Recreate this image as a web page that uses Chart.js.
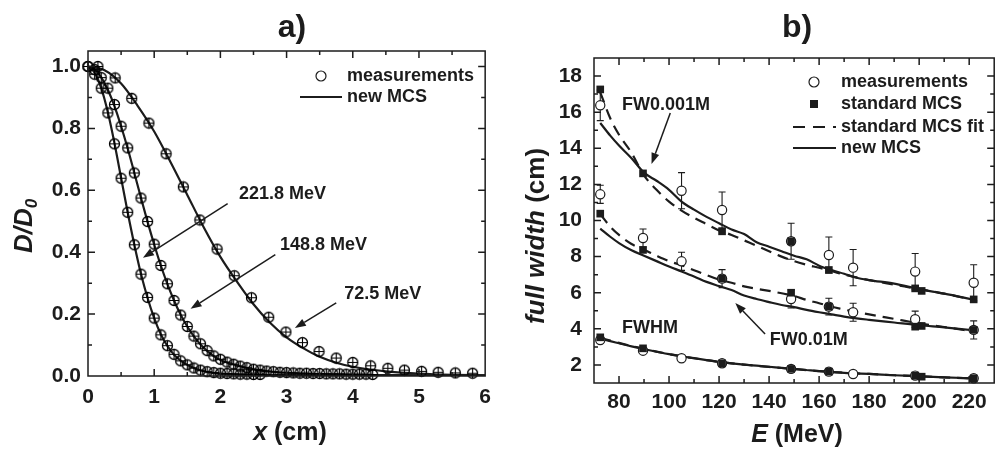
<!DOCTYPE html>
<html>
<head>
<meta charset="utf-8">
<script src="https://cdn.jsdelivr.net/npm/chart.js@4.4.1/dist/chart.umd.min.js"></script>
<style>
    html, body { margin: 0; padding: 0; background: #fff; }
    #wrap { position: relative; width: 1000px; height: 456px; }
    canvas { position: absolute; top: 0; }
    #chartA { left: 0; }
    #chartB { left: 500px; }
</style>
</head>
<body>
<div id="wrap">
    <canvas id="chartA" width="500" height="456"></canvas>
    <canvas id="chartB" width="500" height="456"></canvas>
</div>
<script>
// ---------- panel a: lateral dose profiles ----------
const xTicksA = [0, 1, 2, 3, 4, 5, 6];
const yTicksA = [0, 0.2, 0.4, 0.6, 0.8, 1.0];

// measurements (circle with cross)
const x221 = [0, 0.1, 0.2, 0.3, 0.4, 0.5, 0.6, 0.7, 0.8, 0.9, 1.0, 1.1, 1.2, 1.3, 1.4, 1.5, 1.6, 1.7, 1.8, 1.9, 2.0, 2.1, 2.2, 2.3, 2.4, 2.5, 2.6];
const d221 = [1.0, 0.975, 0.93, 0.85, 0.75, 0.639, 0.529, 0.424, 0.329, 0.254, 0.187, 0.133, 0.098, 0.07, 0.049, 0.036, 0.026, 0.019, 0.014, 0.011, 0.009, 0.008, 0.007, 0.006, 0.006, 0.005, 0.005];

const x148 = [0, 0.1, 0.2, 0.3, 0.4, 0.5, 0.6, 0.7, 0.8, 0.9, 1.0, 1.1, 1.2, 1.3, 1.4, 1.5, 1.6, 1.7, 1.8, 1.9, 2.0, 2.1, 2.2, 2.3, 2.4, 2.5, 2.6, 2.7, 2.8, 2.9, 3.0, 3.1, 3.2, 3.3, 3.4, 3.5, 3.6, 3.7, 3.8, 3.9, 4.0, 4.1, 4.2, 4.3];
const d148 = [1.0, 0.99, 0.964, 0.93, 0.877, 0.807, 0.737, 0.656, 0.575, 0.499, 0.426, 0.357, 0.298, 0.244, 0.197, 0.16, 0.129, 0.104, 0.082, 0.065, 0.054, 0.045, 0.038, 0.032, 0.027, 0.022, 0.019, 0.016, 0.014, 0.012, 0.011, 0.01, 0.009, 0.009, 0.008, 0.008, 0.007, 0.007, 0.007, 0.006, 0.006, 0.006, 0.006, 0.005];

const x72 = [0.15, 0.41, 0.66, 0.92, 1.18, 1.44, 1.69, 1.95, 2.21, 2.47, 2.73, 2.99, 3.24, 3.49, 3.75, 4.0, 4.27, 4.53, 4.78, 5.04, 5.29, 5.55, 5.81];
const d72 = [1.0, 0.963, 0.897, 0.817, 0.718, 0.611, 0.504, 0.41, 0.324, 0.253, 0.19, 0.142, 0.108, 0.079, 0.058, 0.044, 0.033, 0.025, 0.019, 0.015, 0.012, 0.01, 0.009];

// new MCS curves
const cx221 = [0, 0.1, 0.2, 0.3, 0.4, 0.5, 0.6, 0.7, 0.8, 0.9, 1.0, 1.1, 1.2, 1.3, 1.4, 1.5, 1.6, 1.7, 1.8, 1.9, 2.0, 2.2, 2.5, 3.0, 4.0, 6.0];
const cd221 = [1.0, 0.98, 0.93, 0.852, 0.752, 0.64, 0.528, 0.424, 0.33, 0.252, 0.187, 0.135, 0.097, 0.069, 0.05, 0.036, 0.026, 0.018, 0.013, 0.009, 0.007, 0.005, 0.004, 0.003, 0.002, 0.001];

const cx148 = [0, 0.1, 0.2, 0.3, 0.4, 0.5, 0.6, 0.7, 0.8, 0.9, 1.0, 1.1, 1.2, 1.3, 1.4, 1.5, 1.6, 1.7, 1.8, 1.9, 2.0, 2.2, 2.4, 2.6, 2.8, 3.0, 3.5, 4.0, 4.5, 5.0, 6.0];
const cd148 = [1.0, 0.99, 0.965, 0.925, 0.872, 0.807, 0.735, 0.656, 0.576, 0.498, 0.425, 0.357, 0.297, 0.244, 0.198, 0.16, 0.128, 0.102, 0.081, 0.064, 0.052, 0.037, 0.026, 0.018, 0.013, 0.01, 0.006, 0.004, 0.003, 0.002, 0.001];

const cx72 = [0, 0.25, 0.5, 0.75, 1.0, 1.25, 1.5, 1.75, 2.0, 2.25, 2.5, 2.75, 3.0, 3.25, 3.5, 3.75, 4.0, 4.5, 5.0, 5.5, 6.0];
const cd72 = [1.0, 0.988, 0.945, 0.873, 0.79, 0.69, 0.585, 0.48, 0.385, 0.305, 0.232, 0.172, 0.125, 0.09, 0.062, 0.043, 0.03, 0.015, 0.008, 0.004, 0.002];

// ---------- panel b: full widths vs energy ----------
const xTicksB = [80, 100, 120, 140, 160, 180, 200, 220];
const yTicksB = [2, 4, 6, 8, 10, 12, 14, 16, 18];

const measE = [72.5, 89.6, 105.0, 121.2, 148.8, 163.9, 173.6, 198.4, 221.8];
const measFW0001 = [16.38, null, 11.65, 10.58, 8.85, 8.09, 7.39, 7.17, 6.55];
const errFW0001 = [0.85, null, 1.0, 1.0, 1.0, 1.0, 1.0, 1.0, 1.0];
const measFW001 = [11.45, 9.03, 7.74, 6.78, 5.65, 5.23, 4.92, 4.53, 3.94];
const errFW001 = [0.5, 0.5, 0.5, 0.5, 0.5, 0.46, 0.5, 0.45, 0.5];
const measFWHM = [3.38, 2.79, 2.37, 2.09, 1.78, 1.63, 1.5, 1.41, 1.26];

const stdE = [72.5, 89.6, 121.2, 148.8, 163.9, 198.4, 201.0, 221.8];
const stdFW0001 = [17.26, 12.61, 9.40, 8.85, 7.26, 6.24, 6.10, 5.63];
const stdFW001 = [10.38, 8.37, 6.78, 6.00, 5.23, 4.12, 4.16, 3.94];
const stdFWHM = [3.53, 2.92, 2.09, 1.78, 1.63, 1.41, 1.35, 1.26];

const curveE = [72.5, 76.5, 80, 85, 90, 95, 100, 105, 110, 115, 120, 125, 130, 135, 140, 145, 150, 155, 160, 165, 170, 175, 180, 190, 200, 210, 221.8];
const newFW0001 = [15.40, 14.70, 14.15, 13.45, 12.65, 12.20, 11.70, 11.05, 10.60, 10.20, 9.85, 9.50, 9.25, 8.80, 8.55, 8.30, 8.05, 7.85, 7.50, 7.25, 7.05, 6.83, 6.70, 6.50, 6.20, 5.95, 5.62];
const fitFW0001 = [17.10, 15.66, 14.75, 13.75, 12.50, 11.70, 11.05, 10.55, 10.15, 9.80, 9.45, 9.20, 8.90, 8.60, 8.30, 8.00, 7.75, 7.55, 7.38, 7.20, 7.00, 6.85, 6.70, 6.45, 6.20, 5.95, 5.60];
const newFW001 = [9.55, 9.10, 8.75, 8.35, 8.05, 7.75, 7.45, 7.18, 6.90, 6.60, 6.37, 6.15, 5.85, 5.65, 5.48, 5.32, 5.20, 5.05, 4.92, 4.80, 4.68, 4.58, 4.50, 4.35, 4.20, 4.08, 3.92];
const fitFW001 = [10.35, 9.66, 9.20, 8.70, 8.38, 8.05, 7.75, 7.52, 7.25, 6.98, 6.73, 6.55, 6.35, 6.22, 6.10, 5.97, 5.82, 5.60, 5.42, 5.22, 5.07, 4.92, 4.80, 4.55, 4.30, 4.10, 3.85];
const newFWHM = [3.45, 3.32, 3.20, 3.03, 2.88, 2.73, 2.60, 2.48, 2.38, 2.27, 2.17, 2.09, 2.02, 1.96, 1.90, 1.84, 1.78, 1.72, 1.66, 1.61, 1.56, 1.53, 1.50, 1.43, 1.37, 1.31, 1.26];
const fitFWHM = [3.50, 3.35, 3.22, 3.05, 2.90, 2.74, 2.60, 2.48, 2.37, 2.27, 2.17, 2.09, 2.02, 1.95, 1.89, 1.83, 1.77, 1.71, 1.66, 1.61, 1.57, 1.53, 1.50, 1.43, 1.37, 1.31, 1.25];

const FONT = "'Liberation Sans', Arial, sans-serif";
const INK = '#1c1c1c';

const pts = (xs, ys) => xs.map((x, i) => ({ x: x, y: ys[i] }));
const mids = (arr) => arr.slice(1).map((v, i) => (v + arr[i]) / 2);

// circle with a cross, used for the profile measurements
function crossCircle() {
    const c = document.createElement('canvas');
    c.width = 13; c.height = 13;
    const g = c.getContext('2d');
    g.strokeStyle = '#000';
    g.lineWidth = 1.3;
    g.beginPath(); g.arc(6.5, 6.5, 5, 0, Math.PI * 2); g.stroke();
    g.lineWidth = 1.1;
    g.beginPath();
    g.moveTo(6.5, 1.5); g.lineTo(6.5, 11.5);
    g.moveTo(1.5, 6.5); g.lineTo(11.5, 6.5);
    g.stroke();
    return c;
}

function drawParts(ctx, parts, x, y, rotate) {
    ctx.save();
    ctx.translate(x, y);
    if (rotate) ctx.rotate(-Math.PI / 2);
    let total = 0;
    parts.forEach(p => { ctx.font = p.font; total += ctx.measureText(p.text).width; });
    let cx = -total / 2;
    ctx.textBaseline = 'middle';
    ctx.textAlign = 'left';
    ctx.fillStyle = INK;
    parts.forEach(p => {
        ctx.font = p.font;
        ctx.fillText(p.text, cx, p.dy || 0);
        cx += ctx.measureText(p.text).width;
    });
    ctx.restore();
}

function arrow(ctx, x1, y1, x2, y2) {
    const ang = Math.atan2(y2 - y1, x2 - x1);
    const len = 11, half = 4;
    const bx = x2 - len * Math.cos(ang), by = y2 - len * Math.sin(ang);
    ctx.beginPath();
    ctx.moveTo(x1, y1); ctx.lineTo(bx, by);
    ctx.stroke();
    ctx.beginPath();
    ctx.moveTo(x2, y2);
    ctx.lineTo(bx + half * Math.sin(ang), by - half * Math.cos(ang));
    ctx.lineTo(bx - half * Math.sin(ang), by + half * Math.cos(ang));
    ctx.closePath();
    ctx.fill();
}

// box, inward ticks on all four sides, titles, legend and arrow notes
const decorPlugin = {
    id: 'decor',
    beforeDatasetsDraw(chart, args, o) {
        if (!o.errors) return;
        const { ctx, scales: { x, y } } = chart;
        ctx.save();
        ctx.strokeStyle = INK;
        ctx.lineWidth = 1.1;
        o.errors.forEach(g => {
            g.x.forEach((e, i) => {
                if (g.y[i] == null || g.err[i] == null) return;
                const px = x.getPixelForValue(e);
                const top = y.getPixelForValue(g.y[i] + g.err[i]);
                const bot = y.getPixelForValue(g.y[i] - g.err[i]);
                ctx.beginPath();
                ctx.moveTo(px, top); ctx.lineTo(px, bot);
                ctx.moveTo(px - 3.5, top); ctx.lineTo(px + 3.5, top);
                ctx.moveTo(px - 3.5, bot); ctx.lineTo(px + 3.5, bot);
                ctx.stroke();
            });
        });
        ctx.restore();
    },
    afterDraw(chart, args, o) {
        const { ctx, chartArea: a, scales: { x, y } } = chart;
        ctx.save();
        ctx.strokeStyle = INK;
        ctx.fillStyle = INK;
        ctx.lineWidth = 1.5;
        ctx.strokeRect(a.left, a.top, a.right - a.left, a.bottom - a.top);

        const tick = (vals, len) => {
            vals.forEach(v => {
                const px = x.getPixelForValue(v);
                if (px > a.left + 1 && px < a.right - 1) {
                    ctx.moveTo(px, a.bottom); ctx.lineTo(px, a.bottom - len);
                    ctx.moveTo(px, a.top); ctx.lineTo(px, a.top + len);
                }
            });
        };
        const tickY = (vals, len) => {
            vals.forEach(v => {
                const py = y.getPixelForValue(v);
                if (py > a.top + 1 && py < a.bottom - 1) {
                    ctx.moveTo(a.left, py); ctx.lineTo(a.left + len, py);
                    ctx.moveTo(a.right, py); ctx.lineTo(a.right - len, py);
                }
            });
        };
        ctx.beginPath();
        tick(o.xMajor, 7); tick(o.xMinor, 4);
        tickY(o.yMajor, 7); tickY(o.yMinor, 4);
        ctx.stroke();

        // panel and axis titles
        drawParts(ctx, [{ text: o.panel, font: `bold 32px ${FONT}` }], o.panelPos[0], o.panelPos[1]);
        drawParts(ctx, o.xTitle, o.xTitlePos[0], o.xTitlePos[1]);
        drawParts(ctx, o.yTitle, o.yTitlePos[0], o.yTitlePos[1], true);

        // legend
        ctx.font = `bold 18px ${FONT}`;
        ctx.textBaseline = 'middle';
        ctx.textAlign = 'left';
        o.legend.forEach(it => {
            ctx.lineWidth = 1.2;
            if (it.kind === 'circle') {
                ctx.beginPath(); ctx.arc(it.sx, it.y, 5, 0, Math.PI * 2);
                ctx.fillStyle = '#fff'; ctx.fill(); ctx.stroke();
            } else if (it.kind === 'square') {
                ctx.fillStyle = INK; ctx.fillRect(it.sx - 4, it.y - 4, 8, 8);
            } else {
                ctx.lineWidth = 2;
                ctx.setLineDash(it.kind === 'dash' ? [12, 8] : []);
                ctx.beginPath(); ctx.moveTo(it.l1, it.y); ctx.lineTo(it.l2, it.y); ctx.stroke();
                ctx.setLineDash([]);
            }
            ctx.fillStyle = INK;
            ctx.fillText(it.text, it.tx, it.y);
        });

        // arrow notes, placed in data coordinates
        ctx.lineWidth = 1.5;
        o.notes.forEach(n => {
            ctx.fillText(n.text, x.getPixelForValue(n.x), y.getPixelForValue(n.y));
            if (n.from) {
                arrow(ctx, x.getPixelForValue(n.from[0]), y.getPixelForValue(n.from[1]),
                    x.getPixelForValue(n.to[0]), y.getPixelForValue(n.to[1]));
            }
        });
        ctx.restore();
    }
};

function axis(min, max, tickVals, fmt, padding, fit) {
    return {
        type: 'linear',
        min: min,
        max: max,
        afterBuildTicks: s => { s.ticks = tickVals.map(v => ({ value: v })); },
        afterFit: fit,
        grid: { display: false, drawTicks: false },
        border: { display: false },
        ticks: {
            padding: padding,
            color: INK,
            font: { family: FONT, size: 21, weight: 'bold' },
            callback: fmt
        }
    };
}

const profileLine = (xs, ys) => ({
    data: pts(xs, ys), showLine: true, pointRadius: 0, borderColor: INK,
    borderWidth: 2.2, cubicInterpolationMode: 'monotone', order: 3
});
const markA = crossCircle();
const profilePts = (xs, ys) => ({
    data: pts(xs, ys), showLine: false, pointStyle: markA, pointRadius: 5, clip: false, order: 1
});

new Chart(document.getElementById('chartA'), {
    type: 'scatter',
    data: {
        datasets: [
            profileLine(cx221, cd221), profileLine(cx148, cd148), profileLine(cx72, cd72),
            profilePts(x221, d221), profilePts(x148, d148), profilePts(x72, d72)
        ]
    },
    options: {
        responsive: false,
        animation: false,
        events: [],
        layout: { padding: { top: 51, right: 9, left: 0, bottom: 0 } },
        scales: {
            x: axis(0, 6, xTicksA, v => String(v), 9, s => { s.height = 80; }),
            y: axis(0, 1.05, yTicksA, v => v.toFixed(1), 7, s => { s.width = 88; })
        },
        plugins: {
            legend: { display: false },
            tooltip: { enabled: false },
            decor: {
                xMajor: xTicksA, xMinor: mids(xTicksA),
                yMajor: yTicksA, yMinor: mids(yTicksA),
                panel: 'a)', panelPos: [292, 28],
                xTitle: [{ text: 'x', font: `italic bold 25px ${FONT}` }, { text: ' (cm)', font: `bold 25px ${FONT}` }],
                xTitlePos: [290, 433],
                yTitle: [{ text: 'D/D', font: `italic bold 26px ${FONT}` }, { text: '0', font: `italic bold 17px ${FONT}`, dy: 7 }],
                yTitlePos: [25, 226],
                legend: [
                    { kind: 'circle', sx: 321, y: 76, text: 'measurements', tx: 347 },
                    { kind: 'line', l1: 300, l2: 342, y: 97, text: 'new MCS', tx: 347 }
                ],
                notes: [
                    { text: '221.8 MeV', x: 2.28, y: 0.589, from: [2.11, 0.557], to: [0.83, 0.382] },
                    { text: '148.8 MeV', x: 2.90, y: 0.424, from: [2.83, 0.392], to: [1.55, 0.217] },
                    { text: '72.5 MeV', x: 3.87, y: 0.265, from: [3.75, 0.236], to: [3.125, 0.155] }
                ]
            }
        }
    },
    plugins: [decorPlugin]
});

const widthLine = (ys, dashed) => ({
    data: pts(curveE, ys), showLine: true, pointRadius: 0, borderColor: INK,
    borderWidth: 2.2, borderDash: dashed ? [11, 7] : [], cubicInterpolationMode: 'monotone', order: 3
});
const measPts = ys => ({
    data: pts(measE, ys).filter(p => p.y != null), showLine: false, pointStyle: 'circle',
    pointRadius: 4.6, backgroundColor: '#fff', borderColor: INK, borderWidth: 1.2, clip: false, order: 2
});
const stdPts = ys => ({
    data: pts(stdE, ys), showLine: false, pointStyle: 'rect',
    pointRadius: 5.4, backgroundColor: INK, borderColor: INK, borderWidth: 0, clip: false, order: 1
});

new Chart(document.getElementById('chartB'), {
    type: 'scatter',
    data: {
        datasets: [
            widthLine(newFW0001, false), widthLine(fitFW0001, true),
            widthLine(newFW001, false), widthLine(fitFW001, true),
            widthLine(newFWHM, false), widthLine(fitFWHM, true),
            measPts(measFW0001), measPts(measFW001), measPts(measFWHM),
            stdPts(stdFW0001), stdPts(stdFW001), stdPts(stdFWHM)
        ]
    },
    options: {
        responsive: false,
        animation: false,
        events: [],
        layout: { padding: { top: 58, right: 1, left: 0, bottom: 0 } },
        scales: {
            x: axis(70, 230, xTicksB, v => String(v), 7, s => { s.height = 73; }),
            y: axis(1, 19, yTicksB, v => String(v), 12, s => { s.width = 94; })
        },
        plugins: {
            legend: { display: false },
            tooltip: { enabled: false },
            decor: {
                xMajor: xTicksB, xMinor: [70].concat(xTicksB).map(v => v + 10).filter(v => v < 230 && v % 20 !== 0),
                yMajor: yTicksB, yMinor: [1].concat(yTicksB.map(v => v + 1)),
                panel: 'b)', panelPos: [297, 28],
                xTitle: [{ text: 'E', font: `italic bold 25px ${FONT}` }, { text: ' (MeV)', font: `bold 25px ${FONT}` }],
                xTitlePos: [297, 435],
                yTitle: [{ text: 'full width', font: `italic bold 26px ${FONT}` }, { text: ' (cm)', font: `bold 26px ${FONT}` }],
                yTitlePos: [37, 236],
                errors: [
                    { x: measE, y: measFW0001, err: errFW0001 },
                    { x: measE, y: measFW001, err: errFW001 }
                ],
                legend: [
                    { kind: 'circle', sx: 314, y: 82, text: 'measurements', tx: 341 },
                    { kind: 'square', sx: 314, y: 104, text: 'standard MCS', tx: 341 },
                    { kind: 'dash', l1: 293, l2: 336, y: 127, text: 'standard MCS fit', tx: 341 },
                    { kind: 'line', l1: 293, l2: 336, y: 148, text: 'new MCS', tx: 341 }
                ],
                notes: [
                    { text: 'FW0.001M', x: 81.2, y: 16.39, from: [100.5, 15.95], to: [93.0, 13.13] },
                    { text: 'FWHM', x: 81.2, y: 4.05 },
                    { text: 'FW0.01M', x: 140.3, y: 3.38, from: [138.4, 3.71], to: [126.5, 5.43] }
                ]
            }
        }
    },
    plugins: [decorPlugin]
});
</script>
</body>
</html>
